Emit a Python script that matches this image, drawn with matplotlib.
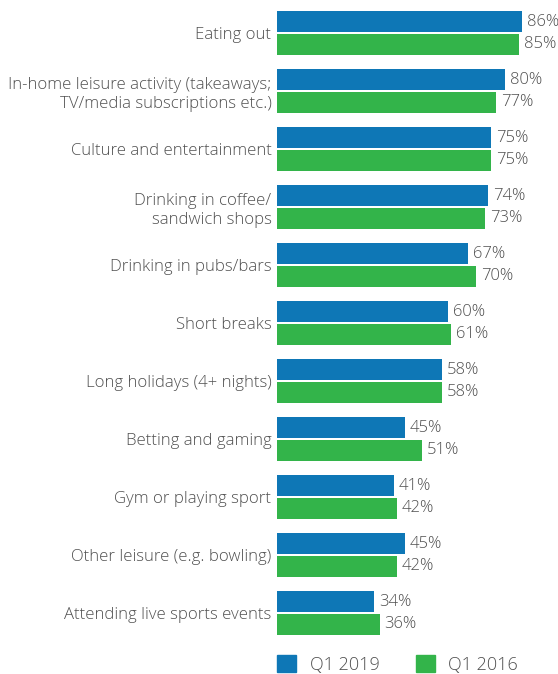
import matplotlib.pyplot as plt
from matplotlib.patches import Patch
import numpy as np

categories = [
    'Eating out',
    'In-home leisure activity (takeaways;\nTV/media subscriptions etc.)',
    'Culture and entertainment',
    'Drinking in coffee/\nsandwich shops',
    'Drinking in pubs/bars',
    'Short breaks',
    'Long holidays (4+ nights)',
    'Betting and gaming',
    'Gym or playing sport',
    'Other leisure (e.g. bowling)',
    'Attending live sports events',
]
q1_2019 = [86, 80, 75, 74, 67, 60, 58, 45, 41, 45, 34]
q1_2016 = [85, 77, 75, 73, 70, 61, 58, 51, 42, 42, 36]
series_names = ['Q1 2019', 'Q1 2016']

blue = '#0e77b6'
green = '#33b44a'
text_col = '#505050'

plt.rcParams['font.family'] = ['Open Sans', 'DejaVu Sans']

fig = plt.figure(figsize=(5.58, 6.74), dpi=100)
ax = fig.add_axes([277 / 558, 1 - 642 / 674, 1 - 277 / 558, (642 - 4) / 674])

y = np.arange(len(categories))
h = 0.36
off = 0.197
bars_a = ax.barh(y - off, q1_2019, height=h, color=blue)
bars_b = ax.barh(y + off, q1_2016, height=h, color=green)

for bars, vals in ((bars_a, q1_2019), (bars_b, q1_2016)):
    for b, v in zip(bars, vals):
        ax.annotate(f'{v}%', (b.get_width(), b.get_y() + b.get_height() / 2),
                    xytext=(3.5, 0), textcoords='offset points',
                    ha='left', va='center', fontsize=12, color=text_col,
                    fontweight='light')

ax.set_xlim(0, 98.6)
ax.set_ylim(len(categories) - 0.5, -0.5)
ax.set_yticks(y)
ax.set_yticklabels(categories, fontsize=12.1, color=text_col, fontweight='light',
                   linespacing=1.25)
ax.tick_params(axis='y', length=0, pad=4)
ax.set_xticks([])
for s in ax.spines.values():
    s.set_visible(False)

handles = [Patch(color=blue), Patch(color=green)]
leg = fig.legend(handles, series_names, loc='lower left',
                 bbox_to_anchor=(261 / 558, -0.024), ncol=2, frameon=False,
                 fontsize=13, handlelength=1.05, handleheight=1.05,
                 handletextpad=0.75, columnspacing=2.0)
for t in leg.get_texts():
    t.set_color(text_col)
    t.set_fontweight('light')

fig.savefig('out.png', dpi=100)
